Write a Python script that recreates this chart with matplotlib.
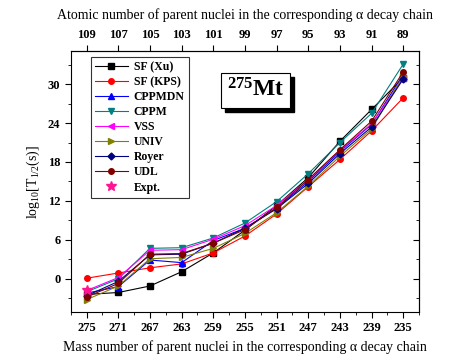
import matplotlib
matplotlib.use("Agg")
import matplotlib.pyplot as plt
from matplotlib.patches import Rectangle
from matplotlib.ticker import MultipleLocator, FixedLocator

plt.rcParams['font.family'] = ['Liberation Serif', 'DejaVu Serif']
plt.rcParams['mathtext.fontset'] = 'custom'
plt.rcParams['mathtext.rm'] = 'Liberation Serif'
plt.rcParams['mathtext.it'] = 'Liberation Serif:italic'
plt.rcParams['mathtext.bf'] = 'Liberation Serif:bold'

mass_numbers = [275, 271, 267, 263, 259, 255, 251, 247, 243, 239, 235]
atomic_numbers = [109, 107, 105, 103, 101, 99, 97, 95, 93, 91, 89]

sf_xu = [-2.4, -2.1, -1.1, 1.1, 4.0, 7.5, 11.3, 15.6, 21.2, 26.1, 31.0]
sf_kps = [0.1, 0.9, 1.7, 2.3, 4.0, 6.6, 10.0, 14.2, 18.4, 22.8, 27.9]
cppmdn = [-2.2, -1.2, 2.9, 2.5, 5.9, 7.8, 10.9, 15.0, 19.6, 23.8, 31.5]
cppm = [-2.0, 0.0, 4.7, 4.8, 6.3, 8.6, 11.9, 16.2, 21.0, 25.5, 33.1]
vss = [-1.8, 0.2, 4.4, 4.5, 6.1, 8.2, 11.3, 15.3, 19.8, 23.9, 30.9]
univ = [-3.2, -1.1, 3.1, 3.3, 4.7, 7.0, 10.2, 14.3, 18.9, 23.1, 31.3]
royer = [-2.6, -0.4, 3.7, 3.8, 5.5, 7.8, 10.8, 14.7, 19.3, 23.4, 30.8]
udl = [-2.8, -0.7, 3.8, 3.9, 5.5, 7.6, 11.0, 15.3, 19.9, 24.3, 31.9]
expt = [-1.7]

series = [
    ("SF (Xu)", sf_xu, "black", "s"),
    ("SF (KPS)", sf_kps, "red", "o"),
    ("CPPMDN", cppmdn, "blue", "^"),
    ("CPPM", cppm, "#008080", "v"),
    ("VSS", vss, "magenta", "<"),
    ("UNIV", univ, "#808000", ">"),
    ("Royer", royer, "#000080", "D"),
    ("UDL", udl, "#800000", "o"),
]

fig = plt.figure(figsize=(4.72, 3.59), dpi=100)
ax = fig.add_axes([0.150, 0.131, 0.738, 0.727])
x = list(range(len(mass_numbers)))

for label, vals, col, mk in series:
    ms = 3.5 if mk == "D" else 4
    ax.plot(x, vals, color=col, marker=mk, markersize=ms, linewidth=0.8, label=label)
ax.plot(x[:len(expt)], expt, linestyle='none', marker='*', color='#FF1493',
        markersize=7, label="Expt.")

ax.set_xlim(-0.5, 10.5)
ax.set_ylim(-5.1, 35.1)
ax.set_xticks(x)
ax.set_xticklabels([str(m) for m in mass_numbers], fontweight='bold', fontsize=9)
ax.xaxis.set_minor_locator(FixedLocator([i + 0.5 for i in range(-1, 11)]))
ax.yaxis.set_major_locator(MultipleLocator(6))
ax.yaxis.set_minor_locator(MultipleLocator(3))
ax.tick_params(axis='both', labelsize=9)
ax.tick_params(axis='both', which='both', direction='out')
ax.tick_params(which='major', length=4, width=0.8)
ax.tick_params(which='minor', length=2, width=0.6)
for lab in ax.get_yticklabels():
    lab.set_fontweight('bold')

ax2 = ax.secondary_yaxis('right')
ax2.yaxis.set_major_locator(MultipleLocator(6))
ax2.yaxis.set_minor_locator(MultipleLocator(3))
ax2.tick_params(which='both', direction='in', labelright=False)
ax2.tick_params(which='major', length=4)
ax2.tick_params(which='minor', length=2)

axt = ax.secondary_xaxis('top')
axt.set_xticks(x)
axt.set_xticklabels([str(z) for z in atomic_numbers], fontweight='bold', fontsize=9)
axt.tick_params(which='major', direction='out', length=4)
axt.set_xlabel("Atomic number of parent nuclei in the corresponding α decay chain",
               fontsize=10, labelpad=7)

ax.set_xlabel("Mass number of parent nuclei in the corresponding α decay chain",
              fontsize=10, labelpad=4)
ax.set_ylabel(r"log$_{10}$[T$_{1/2}$(s)]", fontsize=10, labelpad=4)

leg = ax.legend(loc='upper left', bbox_to_anchor=(0.04, 1.0), frameon=True,
                fancybox=False, edgecolor='black',
                prop={'weight': 'bold', 'size': 8.5}, handlelength=2.8,
                labelspacing=0.26, borderpad=0.35, handletextpad=0.5)
leg.get_frame().set_linewidth(0.8)

t = ax.text(0.53, 0.85, r"$^{\mathbf{275}}$Mt", transform=ax.transAxes,
            ha='center', va='center', fontsize=17, fontweight='bold', zorder=6,
            bbox=dict(boxstyle='square,pad=0.25', facecolor='white',
                      edgecolor='black', linewidth=0.8))

fig.canvas.draw()
bb = t.get_bbox_patch().get_window_extent(fig.canvas.get_renderer())
inv = ax.transAxes.inverted()
(x0, y0), (x1, y1) = inv.transform([(bb.x0 + 4, bb.y0 - 4), (bb.x1 + 4, bb.y1 - 4)])
ax.add_patch(Rectangle((x0, y0), x1 - x0, y1 - y0, transform=ax.transAxes,
                       facecolor='black', edgecolor='black', zorder=5))

fig.savefig("out.png", dpi=100)
